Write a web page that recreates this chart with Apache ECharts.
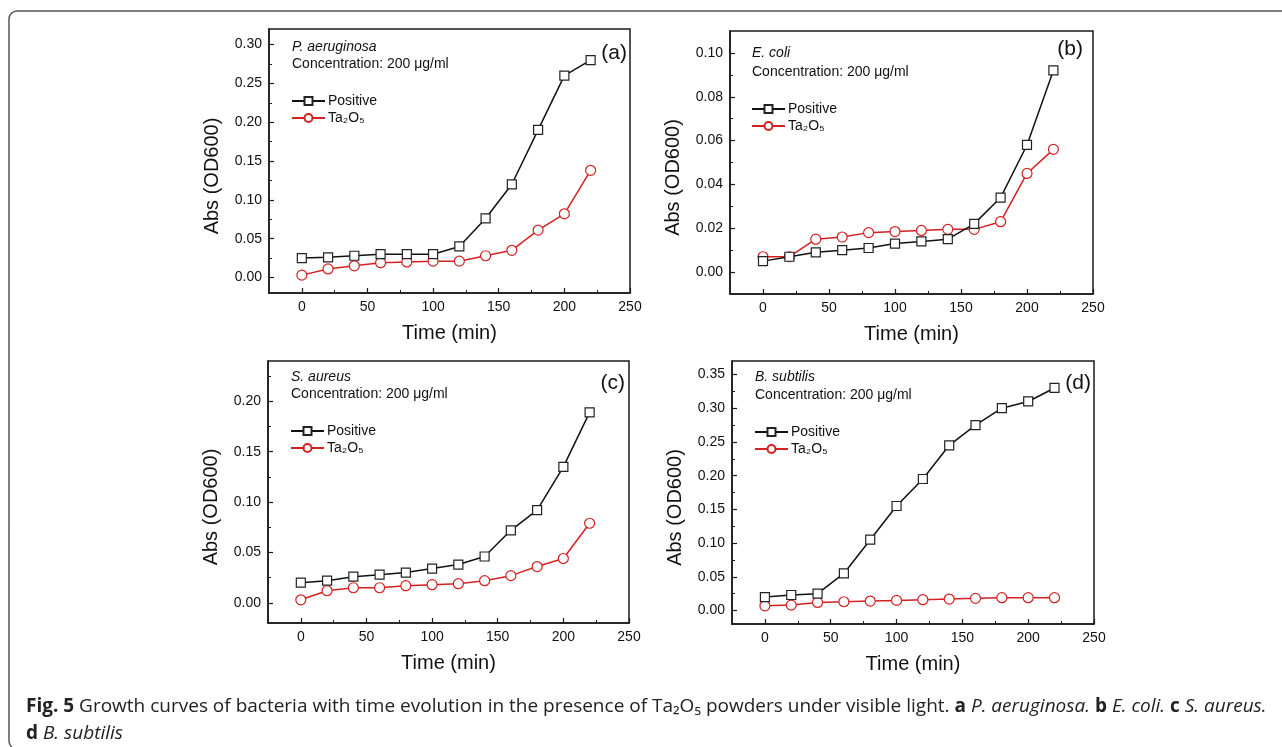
<!DOCTYPE html>
<html>
<head>
<meta charset="utf-8">
<script src="https://cdn.jsdelivr.net/npm/echarts@6/dist/echarts.min.js"></script>
<style>
html,body{margin:0;padding:0;background:#fff;}
#c{width:1282px;height:747px;}
</style>
</head>
<body>
<div id="c"></div>
<script>
// ---- data ----
const time = [0, 20, 40, 60, 80, 100, 120, 140, 160, 180, 200, 220];
const aPositive = [0.025, 0.026, 0.028, 0.030, 0.030, 0.030, 0.040, 0.076, 0.120, 0.190, 0.260, 0.280];
const aTa2O5   = [0.003, 0.011, 0.015, 0.019, 0.020, 0.021, 0.021, 0.028, 0.035, 0.061, 0.082, 0.138];
const bPositive = [0.005, 0.007, 0.009, 0.010, 0.011, 0.013, 0.014, 0.015, 0.022, 0.034, 0.058, 0.092];
const bTa2O5   = [0.007, 0.007, 0.015, 0.016, 0.018, 0.0185, 0.019, 0.0195, 0.0195, 0.023, 0.045, 0.056];
const cPositive = [0.020, 0.022, 0.026, 0.028, 0.030, 0.034, 0.038, 0.046, 0.072, 0.092, 0.135, 0.189];
const cTa2O5   = [0.003, 0.012, 0.015, 0.015, 0.017, 0.018, 0.019, 0.022, 0.027, 0.036, 0.044, 0.079];
const dPositive = [0.020, 0.023, 0.025, 0.055, 0.105, 0.155, 0.195, 0.245, 0.275, 0.300, 0.310, 0.330];
const dTa2O5   = [0.007, 0.008, 0.012, 0.013, 0.014, 0.015, 0.016, 0.017, 0.018, 0.019, 0.019, 0.019];

const xTicks = [0, 50, 100, 150, 200, 250];
const xMinorTicks = [25, 75, 125, 175, 225];
const yTicksA = [0, 0.05, 0.10, 0.15, 0.20, 0.25, 0.30];
const yMinorA = [0.025, 0.075, 0.125, 0.175, 0.225, 0.275];
const yTicksB = [0, 0.02, 0.04, 0.06, 0.08, 0.10];
const yMinorB = [0.01, 0.03, 0.05, 0.07, 0.09];
const yTicksC = [0, 0.05, 0.10, 0.15, 0.20];
const yMinorC = [0.025, 0.075, 0.125, 0.175, 0.225];
const yTicksD = [0, 0.05, 0.10, 0.15, 0.20, 0.25, 0.30, 0.35];
const yMinorD = [0.025, 0.075, 0.125, 0.175, 0.225, 0.275, 0.325];

const seriesNames = ['Positive', 'Ta\u2082O\u2085'];
const species = ['P. aeruginosa', 'E. coli', 'S. aureus', 'B. subtilis'];
const panelLabels = ['(a)', '(b)', '(c)', '(d)'];
const concText = 'Concentration: 200 \u03bcg/ml';

// ---- layout ----
const FONT = '"Liberation Sans", Arial, sans-serif';
const panels = [
  {grid:{left:269, top:29, width:361, height:264}, ymin:-0.02, ymax:0.32, yt:yTicksA, ym:yMinorA, pos:aPositive, ta:aTa2O5,
   sp:[292,47], conc:[292,64], lab:[627,53], leg:[291,94]},
  {grid:{left:730, top:31, width:363, height:263}, ymin:-0.01, ymax:0.11, yt:yTicksB, ym:yMinorB, pos:bPositive, ta:bTa2O5,
   sp:[752,53], conc:[752,72], lab:[1083,49], leg:[751,102]},
  {grid:{left:268, top:361, width:361, height:262}, ymin:-0.02, ymax:0.24, yt:yTicksC, ym:yMinorC, pos:cPositive, ta:cTa2O5,
   sp:[291,377], conc:[291,394], lab:[625,383], leg:[290,424]},
  {grid:{left:732, top:361, width:362, height:263}, ymin:-0.02, ymax:0.37, yt:yTicksD, ym:yMinorD, pos:dPositive, ta:dTa2O5,
   sp:[755,377], conc:[755,395], lab:[1091,383], leg:[754,425]}
];

const AX = '#1a1a1a';
const grids = [], xAxes = [], yAxes = [], series = [], legends = [], graphics = [];

panels.forEach((p, i) => {
  grids.push(Object.assign({show:true, borderColor:AX, borderWidth:1.5, backgroundColor:'transparent'}, p.grid));
  // main x
  xAxes.push({type:'value', gridIndex:i, min:-25, max:250, position:'bottom',
    name:'Time (min)', nameLocation:'middle', nameGap:30,
    nameTextStyle:{fontSize:20, fontFamily:FONT, color:'#111'},
    axisLine:{show:true, onZero:false, lineStyle:{color:AX, width:1.5}},
    axisTick:{show:true, inside:true, length:5, lineStyle:{color:AX, width:1.2}, customValues:xTicks},
    axisLabel:{show:true, customValues:xTicks, fontSize:14, fontFamily:FONT, color:'#111', margin:7,
      formatter:v=>String(Math.round(v))},
    splitLine:{show:false}});
  // minor x
  xAxes.push({type:'value', gridIndex:i, min:-25, max:250, position:'bottom',
    axisLine:{show:false, onZero:false}, axisLabel:{show:false}, splitLine:{show:false},
    axisTick:{show:true, inside:true, length:3, lineStyle:{color:AX, width:1}, customValues:xMinorTicks}});
  // main y
  yAxes.push({type:'value', gridIndex:i, min:p.ymin, max:p.ymax, position:'left',
    name:'Abs (OD600)', nameLocation:'middle', nameGap:47,
    nameTextStyle:{fontSize:20, fontFamily:FONT, color:'#111', padding:[0,30,0,0]},
    axisLine:{show:true, onZero:false, lineStyle:{color:AX, width:1.5}},
    axisTick:{show:true, inside:true, length:5, lineStyle:{color:AX, width:1.2}, customValues:p.yt},
    axisLabel:{show:true, customValues:p.yt, fontSize:14, fontFamily:FONT, color:'#111', margin:7,
      formatter:v=>v.toFixed(2)},
    splitLine:{show:false}});
  // minor y
  yAxes.push({type:'value', gridIndex:i, min:p.ymin, max:p.ymax, position:'left',
    axisLine:{show:false, onZero:false}, axisLabel:{show:false}, splitLine:{show:false},
    axisTick:{show:true, inside:true, length:3, lineStyle:{color:AX, width:1}, customValues:p.ym}});

  series.push({name:seriesNames[0], type:'line', xAxisIndex:2*i, yAxisIndex:2*i,
    data:time.map((t,k)=>[t,p.pos[k]]), symbol:'rect', symbolSize:9,
    lineStyle:{color:'#111', width:1.5}, itemStyle:{color:'#fff', borderColor:'#222', borderWidth:1.2}, z:3});
  series.push({name:seriesNames[1], type:'line', xAxisIndex:2*i, yAxisIndex:2*i,
    data:time.map((t,k)=>[t,p.ta[k]]), symbol:'circle', symbolSize:10,
    lineStyle:{color:'#d42020', width:1.5}, itemStyle:{color:'#fff', borderColor:'#d42020', borderWidth:1.2}, z:2});

  legends.push({data:seriesNames, orient:'vertical', left:p.leg[0], top:p.leg[1], padding:0, itemWidth:33, itemHeight:10,
    itemGap:3, selectedMode:false, textStyle:{fontSize:14, fontFamily:FONT, color:'#111', padding:[0,0,0,-2]}});

  graphics.push({type:'text', x:p.sp[0], y:p.sp[1], style:{text:species[i], font:'italic 14px '+FONT, fill:'#111', verticalAlign:'middle'}});
  graphics.push({type:'text', x:p.conc[0], y:p.conc[1], style:{text:concText, font:'14px '+FONT, fill:'#111', verticalAlign:'middle'}});
  graphics.push({type:'text', x:p.lab[0], y:p.lab[1], style:{text:panelLabels[i], font:'21px '+FONT, fill:'#111', align:'right', verticalAlign:'middle'}});
});

// figure frame and caption
graphics.push({type:'rect', shape:{x:9, y:11, width:1290, height:738, r:8}, style:{fill:'none', stroke:'#555', lineWidth:1.5}, z:-1});
const CF = '"Open Sans", "Noto Sans", sans-serif';
graphics.push({type:'text', left:26, top:693, style:{
  text:'{b|Fig. 5} Growth curves of bacteria with time evolution in the presence of Ta\u2082O\u2085 powders under visible light. {b|a} {i|P. aeruginosa.} {b|b} {i|E. coli.} {b|c} {i|S. aureus.}\n{b|d} {i|B. subtilis}',
  font:'19px '+CF, fill:'#222', lineHeight:27,
  rich:{b:{fontWeight:'bold', fontSize:19, fontFamily:CF, fill:'#222', lineHeight:27}, i:{fontStyle:'italic', fontSize:19, fontFamily:CF, fill:'#222', lineHeight:27}}
}});

const chart = echarts.init(document.getElementById('c'), null, {renderer:'canvas'});
chart.setOption({animation:false, backgroundColor:'#fff', grid:grids, xAxis:xAxes, yAxis:yAxes, series:series, legend:legends, graphic:graphics});
</script>
</body>
</html>
